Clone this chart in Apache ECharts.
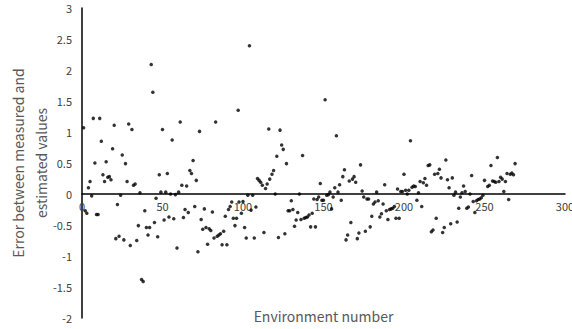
<!DOCTYPE html>
<html>
<head>
<meta charset="utf-8">
<title>Error between measured and estimated values</title>
<script src="https://cdn.jsdelivr.net/npm/echarts@6/dist/echarts.min.js"></script>
<style>
  html, body { margin: 0; padding: 0; background: #fff; }
  #chart { width: 572px; height: 329px; }
</style>
</head>
<body>
<div id="chart"></div>
<script>
// environment numbers (x) and errors (y)
var envNumbers = [
  1, 2, 3, 4, 5, 6, 7, 8, 9, 10, 11, 12, 13, 14, 15, 16, 17, 18, 19, 20,
  21, 22, 23, 24, 25, 26, 27, 28, 29, 30, 31, 32, 33, 34, 35, 36, 37, 38, 39, 40,
  41, 42, 43, 44, 45, 46, 47, 48, 49, 50, 51, 52, 53, 54, 55, 56, 57, 58, 59, 60,
  61, 62, 63, 64, 65, 66, 67, 68, 69, 70, 71, 72, 73,
  74, 75, 76, 77, 78, 79, 80, 81, 82, 83, 84, 85, 86, 87, 88, 89, 90, 91, 92, 93,
  94, 95, 96, 97, 97.5, 99, 100, 101, 102, 103, 104, 105, 106, 107, 108, 109, 110, 111, 112, 113,
  114, 115, 116, 116.6, 118, 119,
  120, 121, 122, 123, 124, 125, 126, 127, 128, 129, 130, 131, 132, 133, 134, 135, 136, 137, 138, 139,
  140, 141, 142, 143, 144, 145, 146, 147, 148, 149, 150, 151, 152, 153, 154, 155, 156, 157, 158, 159,
  160, 161, 162, 163, 164, 165, 166, 167, 168, 169,
  170, 171, 172, 173, 174, 175, 176, 177, 178, 179, 180, 181, 182, 183, 184, 185, 186, 187, 188, 189,
  190, 191, 192, 193, 194, 195, 196, 197, 198, 199, 200, 201, 202, 203, 204, 205, 206, 207, 208, 209,
  210, 211, 212, 213, 214, 215, 216, 217, 218, 219,
  220, 221, 222, 223, 224, 225, 226, 227, 228, 229, 230, 231, 232, 233, 234, 235, 236, 237, 238, 239,
  240, 241, 242, 243, 244, 245, 246, 247, 248, 249, 250, 252, 253, 254, 255, 256, 257, 258, 259, 260,
  261, 262, 263, 264, 265, 266, 267, 268, 269
];
var errors = [
  1.07, -0.27, -0.31, 0.10, 0.20, -0.03, 1.22, 0.50, -0.33, -0.33, 1.22, 0.85, 0.31, 0.20, 0.52, 0.27, 0.28, 0.23, 0.73, 1.11,
  -0.72, -0.17, -0.68, -0.02, 0.63, -0.74, 0.49, 0.20, 1.13, -0.83, 1.04, 0.14, 0.16, -0.75, -0.51, 0.02, -1.38, -1.41, -0.27, -0.54,
  -0.66, -0.54, 2.09, 1.64, -0.46, -0.07, -0.69, 0.31, 0.03, 1.04, -0.42, 0.03, 0.33, -0.37, 0.00, 0.87, -0.40, -0.01, -0.87, 0.03,
  1.16, 0.14, -0.38, -0.25, 0.13, -0.30, 0.38, 0.33, 0.54, -0.20, 0.22, -0.93, 1.01,
  -0.41, -0.57, -0.24, -0.54, -0.81, -0.56, -0.59, -0.29, -0.71, 1.16, -0.68, -0.66, -0.64, -0.82, -0.60, -0.36, -0.82, -0.25, -0.20, -0.13,
  -0.39, -0.51, -0.39, 1.35, -0.13, -0.31, -0.12, -0.54, -0.71, -0.02, 2.39, -0.26, -0.02, -0.71, -0.21, 0.25, 0.22, 0.19, 0.14, -0.62,
  0.09, 0.16, 1.05, 0.24, 0.32, 0.38,
  0.00, 0.61, -0.70, 1.03, 0.79, 0.72, -0.64, 0.49, -0.27, -0.27, -0.11, -0.25, -0.52, -0.42, -0.30, 0.00, -0.41, 0.62, -0.39, -0.38,
  -0.37, -0.34, -0.53, -0.31, -0.08, -0.53, -0.09, -0.05, 0.17, -0.10, -0.10, 1.52, -0.02, -0.01, 0.03, -0.24, -0.05, 0.10, 0.94, 0.03,
  0.15, -0.10, 0.28, 0.39, -0.74, -0.66, 0.21, -0.46, 0.24, 0.28,
  0.19, -0.72, -0.63, 0.47, 0.05, -0.05, -0.60, -0.08, -0.08, -0.53, -0.36, -0.16, -0.13, 0.03, -0.11, -0.37, -0.32, -0.16, 0.15, -0.27,
  -0.41, -0.25, -0.24, -0.23, -0.20, -0.39, 0.08, -0.39, 0.04, 0.04, 0.32, 0.06, 0.00, 0.06, 0.86, 0.11, 0.13, 0.12, -0.10, 0.02,
  0.20, -0.20, 0.18, 0.25, 0.14, 0.46, 0.47, -0.61, -0.58, 0.32,
  -0.39, 0.33, 0.40, 0.26, -0.62, -0.54, 0.55, 0.23, 0.10, -0.48, 0.26, -0.02, 0.03, -0.45, -0.23, -0.05, 0.02, 0.13, 0.04, -0.23,
  -0.21, 0.00, 0.30, -0.12, -0.30, -0.11, -0.09, -0.08, -0.06, -0.02, 0.22, 0.12, 0.14, 0.46, 0.21, 0.20, 0.19, 0.59, 0.20, 0.27,
  0.24, 0.04, 0.20, 0.33, -0.09, 0.32, 0.34, 0.31, 0.49
];

var points = envNumbers.map(function (x, i) { return [x, errors[i]]; });

var font = '"Noto Sans CJK JP", "Noto Sans", sans-serif';
var chart = echarts.init(document.getElementById('chart'), null, { renderer: 'svg' });
chart.setOption({
  animation: false,
  grid: { left: 82, right: 7, top: 8, bottom: 11, containLabel: false, outerBoundsMode: 'none' },
  xAxis: {
    type: 'value',
    min: 0,
    max: 300,
    interval: 50,
    // axis sits on y = 0: grid height 310px over 5 units, zero is 124px above the bottom
    offset: -124,
    name: 'Environment number',
    nameLocation: 'middle',
    nameGap: 115,
    nameMoveOverlap: false,
    nameTextStyle: { color: '#595959', fontSize: 14, fontFamily: font },
    axisLine: { onZero: false, lineStyle: { color: '#000', width: 1.5 } },
    axisTick: { show: false },
    splitLine: { show: false },
    axisLabel: { color: '#404040', fontSize: 11, margin: 6, fontFamily: font }
  },
  yAxis: {
    type: 'value',
    min: -2,
    max: 3,
    interval: 0.5,
    name: 'Error between measured and\nestimated values',
    nameLocation: 'middle',
    nameRotate: 90,
    nameGap: 30,
    nameMoveOverlap: false,
    nameTextStyle: { color: '#595959', fontSize: 14, lineHeight: 23, fontFamily: font },
    axisLine: { show: true, lineStyle: { color: '#000', width: 1.5 } },
    axisTick: { show: false },
    splitLine: { show: false },
    axisLabel: { color: '#404040', fontSize: 11, margin: 10, fontFamily: font }
  },
  series: [{
    type: 'scatter',
    data: points,
    symbol: 'circle',
    symbolSize: 3.5,
    itemStyle: { color: '#000' }
  }]
});
</script>
</body>
</html>
